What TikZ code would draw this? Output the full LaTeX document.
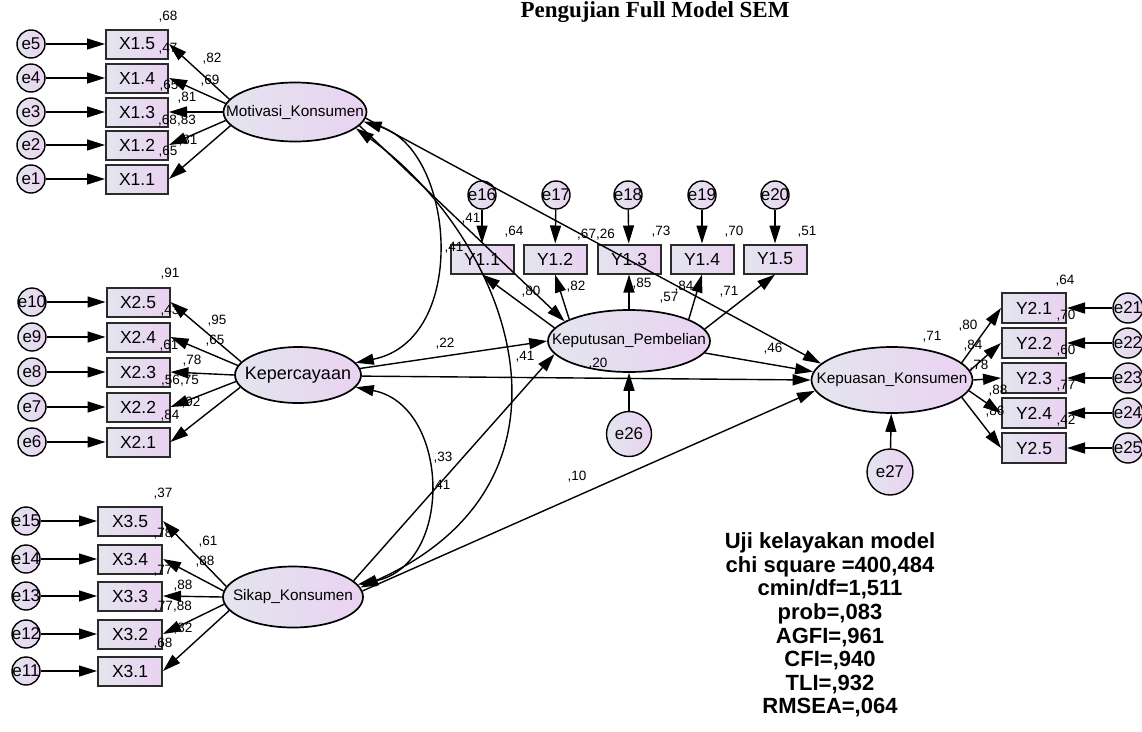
\documentclass[tikz,border=0pt]{standalone}
\usepackage{fontspec}
\setmainfont{Liberation Sans}
\newfontfamily\titlefont{Liberation Serif}
\usepackage{tikz}
\usetikzlibrary{shapes.geometric}
\usetikzlibrary{arrows.meta}
\tikzset{>={Triangle[width=11pt,length=18pt]}}
\definecolor{lavleft}{HTML}{E3E5EE}
\definecolor{lavright}{HTML}{EAD2F1}
\definecolor{boxline}{HTML}{2B2B2B}
\newcommand{\MID}[1]{\makebox[0pt]{#1}}

\begin{document}
\begin{tikzpicture}[x=1pt, y=-1pt, line width=1.4pt,
  obs/.style={rectangle, draw=boxline, line width=2pt, minimum width=62pt,
    minimum height=29pt, inner sep=0pt, left color=lavleft, right color=lavright,
    font=\fontsize{17.5}{18}\selectfont},
  err/.style={circle, draw=black, line width=1.4pt, minimum size=28pt, inner sep=0pt,
    left color=lavleft, right color=lavright, font=\fontsize{17}{18}\selectfont},
  lat/.style={ellipse, draw=black, line width=1.7pt, inner sep=0pt,
    left color=lavleft, right color=lavright, font=\fontsize{15.3}{16}\selectfont},
  val/.style={inner sep=0pt, font=\fontsize{13.5}{14}\selectfont}]
\useasboundingbox (0,0) rectangle (1142,731);

\node[font=\titlefont\bfseries\fontsize{23}{23}\selectfont, anchor=base] (title)
  at (655,17) {Pengujian Full Model SEM};

% Motivasi_Konsumen
\node[err] (e5) at (31,44) {\MID{e5}};
\node[err] (e4) at (31,78) {\MID{e4}};
\node[err] (e3) at (31,112) {\MID{e3}};
\node[err] (e2) at (31,145) {\MID{e2}};
\node[err] (e1) at (31,179) {\MID{e1}};
\node[obs] (x15) at (137,44) {X1.5};
\node[obs] (x14) at (137,78) {X1.4};
\node[obs] (x13) at (137,112) {X1.3};
\node[obs] (x12) at (137,145) {X1.2};
\node[obs] (x11) at (137,179) {X1.1};
\node[lat, minimum width=143pt, minimum height=59pt] (mk) at (295,112) {\MID{Motivasi\_Konsumen}};

% Kepercayaan
\node[err] (e10) at (32,302) {\MID{e10}};
\node[err] (e9) at (32,337) {\MID{e9}};
\node[err] (e8) at (32,372) {\MID{e8}};
\node[err] (e7) at (32,407) {\MID{e7}};
\node[err] (e6) at (32,442) {\MID{e6}};
\node[obs, minimum width=63pt] (x25) at (138,302) {X2.5};
\node[obs, minimum width=63pt] (x24) at (138,337) {X2.4};
\node[obs, minimum width=63pt] (x23) at (138,372) {X2.3};
\node[obs, minimum width=63pt] (x22) at (138,407) {X2.2};
\node[obs, minimum width=63pt] (x21) at (138,442) {X2.1};
\node[lat, minimum width=126pt, minimum height=56pt, font=\fontsize{18}{18}\selectfont]
  (kc) at (298,375) {\MID{Kepercayaan}};

% Sikap_Konsumen
\node[err] (e15) at (26,521) {\MID{e15}};
\node[err] (e14) at (26,559) {\MID{e14}};
\node[err] (e13) at (26,596) {\MID{e13}};
\node[err] (e12) at (26,634) {\MID{e12}};
\node[err] (e11) at (26,671) {\MID{e11}};
\node[obs, minimum width=64pt] (x35) at (130,521) {X3.5};
\node[obs, minimum width=64pt] (x34) at (130,559) {X3.4};
\node[obs, minimum width=64pt] (x33) at (130,596) {X3.3};
\node[obs, minimum width=64pt] (x32) at (130,634) {X3.2};
\node[obs, minimum width=64pt] (x31) at (130,671) {X3.1};
\node[lat, minimum width=140pt, minimum height=61pt] (sk) at (293,597) {\MID{Sikap\_Konsumen}};

% Keputusan_Pembelian
\node[err] (e16) at (482,195) {\MID{e16}};
\node[err] (e17) at (556,195) {\MID{e17}};
\node[err] (e18) at (628,195) {\MID{e18}};
\node[err] (e19) at (702,195) {\MID{e19}};
\node[err] (e20) at (775,195) {\MID{e20}};
\node[obs, minimum width=63pt] (y11) at (482,259) {Y1.1};
\node[obs, minimum width=63pt] (y12) at (555,259) {Y1.2};
\node[obs, minimum width=63pt] (y13) at (629,259) {Y1.3};
\node[obs, minimum width=63pt] (y14) at (702,259) {Y1.4};
\node[obs, minimum width=63pt] (y15) at (775,259) {Y1.5};
\node[lat, minimum width=162pt, minimum height=62pt] (kp) at (629,341) {\MID{Keputusan\_Pembelian}};
\node[err, minimum size=45pt] (e26) at (629,434) {\MID{e26}};

% Kepuasan_Konsumen
\node[lat, minimum width=161pt, minimum height=66pt] (kq) at (892,380) {\MID{Kepuasan\_Konsumen}};
\node[err, minimum size=46pt] (e27) at (890,472) {\MID{e27}};
\node[obs, minimum width=64pt, minimum height=30pt] (y21) at (1034,308) {Y2.1};
\node[obs, minimum width=64pt, minimum height=30pt] (y22) at (1034,343) {Y2.2};
\node[obs, minimum width=64pt, minimum height=30pt] (y23) at (1034,378) {Y2.3};
\node[obs, minimum width=64pt, minimum height=30pt] (y24) at (1034,413) {Y2.4};
\node[obs, minimum width=64pt, minimum height=30pt] (y25) at (1034,448) {Y2.5};
\node[err, minimum size=30pt] (e21) at (1128,308) {\MID{e21}};
\node[err, minimum size=30pt] (e22) at (1128,343) {\MID{e22}};
\node[err, minimum size=30pt] (e23) at (1128,378) {\MID{e23}};
\node[err, minimum size=30pt] (e24) at (1128,413) {\MID{e24}};
\node[err, minimum size=30pt] (e25) at (1128,448) {\MID{e25}};

% error terms
\draw[->] (e5) -- (x15);
\draw[->] (e4) -- (x14);
\draw[->] (e3) -- (x13);
\draw[->] (e2) -- (x12);
\draw[->] (e1) -- (x11);
\draw[->] (e10) -- (x25);
\draw[->] (e9) -- (x24);
\draw[->] (e8) -- (x23);
\draw[->] (e7) -- (x22);
\draw[->] (e6) -- (x21);
\draw[->] (e15) -- (x35);
\draw[->] (e14) -- (x34);
\draw[->] (e13) -- (x33);
\draw[->] (e12) -- (x32);
\draw[->] (e11) -- (x31);
\draw[->] (e16) -- (y11);
\draw[->] (e17) -- (y12);
\draw[->] (e18) -- (y13);
\draw[->] (e19) -- (y14);
\draw[->] (e20) -- (y15);
\draw[->] (e21) -- (y21);
\draw[->] (e22) -- (y22);
\draw[->] (e23) -- (y23);
\draw[->] (e24) -- (y24);
\draw[->] (e25) -- (y25);
\draw[->] (e26) -- (kp);
\draw[->] (e27) -- (kq);

% loadings
\draw[->] (mk.169) -- (x15.east);
\draw[->] (mk.173) -- (x14.east);
\draw[->] (mk.180) -- (x13.east);
\draw[->] (mk.187) -- (x12.east);
\draw[->] (mk.192) -- (x11.east);
\draw[->] (kc.167) -- (x25.east);
\draw[->] (kc.171) -- (x24.east);
\draw[->] (kc.180) -- (x23.east);
\draw[->] (kc.186) -- (x22.east);
\draw[->] (kc.192) -- (x21.east);
\draw[->] (sk.171) -- (x35.east);
\draw[->] (sk.175) -- (x34.east);
\draw[->] (sk.180) -- (x33.east);
\draw[->] (sk.186) -- (x32.east);
\draw[->] (sk.192) -- (x31.east);
\draw[->] (kp.170) -- (y11.south);
\draw[->] (kp.160) -- (y12.south);
\draw[->] (kp.90) -- (y13.south);
\draw[->] (kp.20) -- (y14.south);
\draw[->] (kp.9) -- (y15.south);
\draw[->] (kq.14) -- (y21.west);
\draw[->] (kq.7) -- (y22.west);
\draw[->] (kq.0) -- (y23.west);
\draw[->] (kq.-8) -- (y24.west);
\draw[->] (kq.-14) -- (y25.west);

% structural paths
\draw[->] (kc.6) -- (kp.west);
\draw[->] (kc.-1) -- (kq.180);
\draw[->] (mk.-12) -- (kp.163);
\draw[->] (mk.-5) -- (kq.167);
\draw[->] (kp.-9) -- (kq.174);
\draw[->] (sk.15) -- (kp.190);
\draw[->] (sk.5) -- (kq.188);

% covariances
\draw[<->] (mk.-8) .. controls (455,150) and (470,340) .. (kc.12);
\draw[<->] (mk.-15) .. controls (510,240) and (600,480) .. (sk.8);
\draw[<->] (kc.-12) .. controls (450,405) and (455,565) .. (sk.11);

% estimates
\node[val] (a1) at (168,17) {,68};
\node[val] (a2) at (168,49) {,47};
\node[val] (a3) at (212,59) {,82};
\node[val] (a4) at (210,81) {,69};
\node[val] (a5) at (169,86) {,65};
\node[val] (a6) at (187,98) {,81};
\node[val] (a7) at (177,121) {,68,83};
\node[val] (a8) at (188,141) {,81};
\node[val] (a9) at (168,152) {,65};

\node[val] (b1) at (170,274) {,91};
\node[val] (b2) at (170,311) {,43};
\node[val] (b3) at (217,321) {,95};
\node[val] (b4) at (215,341) {,65};
\node[val] (b5) at (169,346) {,61};
\node[val] (b6) at (192,361) {,78};
\node[val] (b7) at (180,381) {,56,75};
\node[val] (b8) at (191,403) {,92};
\node[val] (b9) at (170,416) {,84};

\node[val] (c1) at (163,494) {,37};
\node[val] (c2) at (163,534) {,78};
\node[val] (c3) at (208,542) {,61};
\node[val] (c4) at (205,562) {,88};
\node[val] (c5) at (163,571) {,77};
\node[val] (c6) at (183,586) {,88};
\node[val] (c7) at (173,607) {,77,88};
\node[val] (c8) at (183,629) {,82};
\node[val] (c9) at (163,644) {,68};

\node[val] (d1) at (471,219) {,41};
\node[val] (d2) at (514,232) {,64};
\node[val] (d3) at (454,248) {,41};
\node[val] (d4) at (596,235) {,67,26};
\node[val] (d5) at (661,232) {,73};
\node[val] (d6) at (734,232) {,70};
\node[val] (d7) at (807,232) {,51};
\node[val] (d8) at (531,292) {,80};
\node[val] (d9) at (576,287) {,82};
\node[val] (d10) at (642,284) {,85};
\node[val] (d11) at (669,298) {,57};
\node[val] (d12) at (684,287) {,84};
\node[val] (d13) at (729,292) {,71};

\node[val] (f1) at (445,344) {,22};
\node[val] (f2) at (525,357) {,41};
\node[val] (f3) at (598,364) {,20};
\node[val] (f4) at (773,349) {,46};
\node[val] (f5) at (443,458) {,33};
\node[val] (f6) at (441,486) {,41};
\node[val] (f7) at (577,477) {,10};

\node[val] (g1) at (1065,281) {,64};
\node[val] (g2) at (1066,316) {,70};
\node[val] (g3) at (968,326) {,80};
\node[val] (g4) at (973,346) {,84};
\node[val] (g5) at (979,366) {,78};
\node[val] (g6) at (1066,351) {,60};
\node[val] (g7) at (932,337) {,71};
\node[val] (g8) at (1066,386) {,77};
\node[val] (g9) at (998,391) {,88};
\node[val] (g10) at (995,412) {,86};
\node[val] (g11) at (1066,421) {,42};

% model fit
\node[align=center, anchor=north, inner sep=0pt,
  font=\bfseries\fontsize{22}{23.6}\selectfont] (fit) at (830,532)
  {Uji kelayakan model\\chi square =400,484\\cmin/df=1,511\\prob=,083\\
   AGFI=,961\\CFI=,940\\TLI=,932\\RMSEA=,064};
\end{tikzpicture}
\end{document}
